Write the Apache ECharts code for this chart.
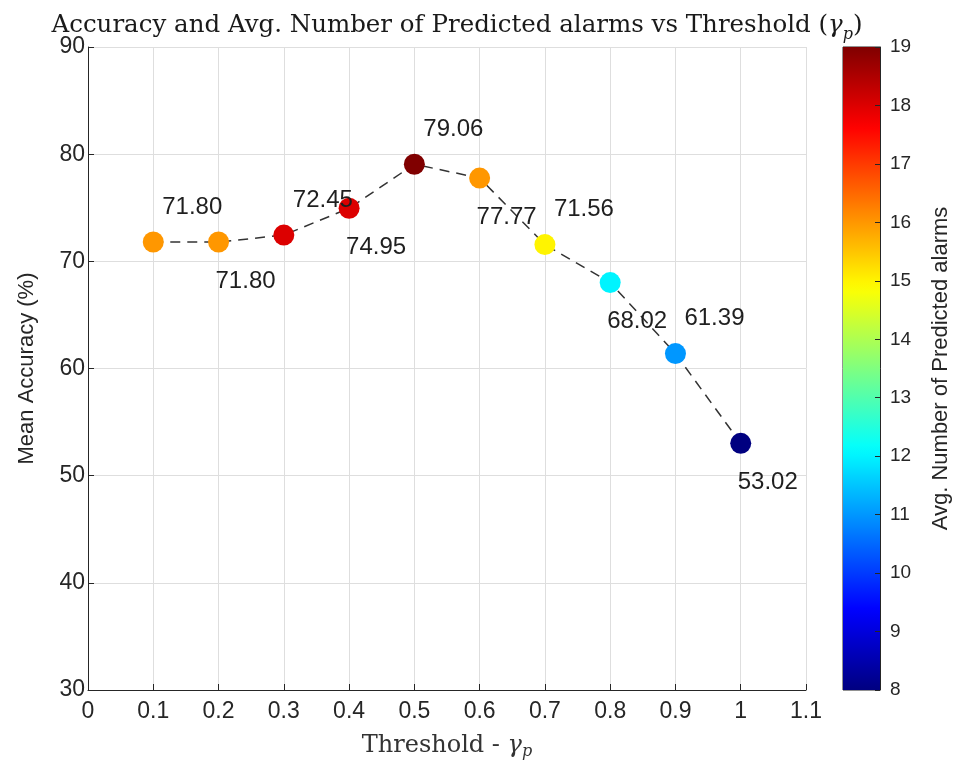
<!DOCTYPE html>
<html>
<head>
<meta charset="utf-8">
<script src="https://cdn.jsdelivr.net/npm/echarts@6/dist/echarts.min.js"></script>
<style>
  html, body { margin: 0; padding: 0; background: #ffffff; }
  #chart { width: 956px; height: 763px; }
</style>
</head>
<body>
<div id="chart"></div>
<script>
// Detection threshold values (gamma_p)
const thresholds = [0.1, 0.2, 0.3, 0.4, 0.5, 0.6, 0.7, 0.8, 0.9, 1.0];
// Mean accuracy (%) at each threshold
const meanAccuracy = [71.80, 71.80, 72.45, 74.95, 79.06, 77.77, 71.56, 68.02, 61.39, 53.02];
// Average number of predicted alarms at each threshold (drives marker colour)
const avgPredictedAlarms = [16, 16, 18, 18, 19, 16, 15, 12, 11, 8];
// Axis ranges
const xRange = [0, 1.1];
const xStep = 0.1;
const yRange = [30, 90];
const yStep = 10;
const alarmRange = [8, 19];
const alarmStep = 1;

const TEXT = '#262626';
const SANS = 'Liberation Sans, Arial, Helvetica, sans-serif';
const SERIF = 'DejaVu Serif, Liberation Serif, serif';

// MATLAB-style "jet" colormap
function jet(t) {
  const c = v => Math.round(255 * Math.max(0, Math.min(1, 1.5 - Math.abs(v))));
  return 'rgb(' + c(4 * t - 3) + ',' + c(4 * t - 2) + ',' + c(4 * t - 1) + ')';
}
const JET_N = 64;
const jetColors = [];
const jetStops = [];
for (let i = 0; i < JET_N; i++) {
  const t = i / (JET_N - 1);
  jetColors.push(jet(t));
  jetStops.push({ offset: t, color: jet(t) });
}

const chart = echarts.init(document.getElementById('chart'), null, { renderer: 'canvas' });

const pointData = thresholds.map((x, i) => ({
  value: [x, meanAccuracy[i], avgPredictedAlarms[i]],
  label: { offset: i % 2 === 0 ? [39, -35] : [27, 39] }
}));
const lineData = thresholds.map((x, i) => [x, meanAccuracy[i]]);

function serifRich(size, subSize, color, lh) {
  return {
    n: { fontFamily: SERIF, fontSize: size, fontWeight: 'normal', color: color, lineHeight: lh, verticalAlign: 'middle' },
    g: { fontFamily: SERIF, fontSize: size, fontWeight: 'normal', fontStyle: 'italic', color: color, lineHeight: lh, verticalAlign: 'middle' },
    s: { fontFamily: SERIF, fontSize: subSize, fontWeight: 'normal', fontStyle: 'italic', color: color, lineHeight: lh, verticalAlign: 'bottom' }
  };
}

const option = {
  backgroundColor: '#ffffff',
  animation: false,
  title: {
    text: '{n|Accuracy and Avg. Number of Predicted alarms vs Threshold (}{g|γ}{s|p}{n|)}',
    left: 452,
    textAlign: 'center',
    top: 4,
    textStyle: { fontWeight: 'normal', rich: serifRich(24.5, 16, '#1a1a1a', 34) }
  },
  grid: [
    { left: 88, right: 150, top: 47, bottom: 73, containLabel: false, outerBoundsMode: 'none' },
    { left: 843, width: 37, top: 47, bottom: 73, outerBoundsMode: 'none', show: true, borderColor: TEXT, borderWidth: 1, backgroundColor: 'transparent' }
  ],
  visualMap: {
    show: false,
    type: 'continuous',
    seriesIndex: 1,
    dimension: 2,
    min: alarmRange[0],
    max: alarmRange[1],
    inRange: { color: jetColors }
  },
  xAxis: [
    {
      type: 'value',
      gridIndex: 0,
      min: xRange[0],
      max: xRange[1],
      interval: xStep,
      name: '{n|Threshold - }{g|γ}{s|p}',
      nameLocation: 'middle',
      nameGap: 42,
      nameTextStyle: { rich: serifRich(24, 16, '#333', 28) },
      axisLine: { show: true, onZero: false, lineStyle: { color: TEXT, width: 1 } },
      axisTick: { show: true, inside: true, length: 6, lineStyle: { color: TEXT } },
      axisLabel: { fontFamily: SANS, fontSize: 23, color: TEXT, margin: 10 },
      splitLine: { show: true, lineStyle: { color: '#dedede', width: 1 } }
    },
    {
      type: 'value',
      gridIndex: 1,
      min: 0,
      max: 1,
      show: false
    }
  ],
  yAxis: [
    {
      type: 'value',
      gridIndex: 0,
      min: yRange[0],
      max: yRange[1],
      interval: yStep,
      name: 'Mean Accuracy (%)',
      nameLocation: 'middle',
      nameRotate: 90,
      nameGap: 50,
      nameTextStyle: { fontFamily: SANS, fontSize: 22, color: TEXT },
      axisLine: { show: true, onZero: false, lineStyle: { color: TEXT, width: 1 } },
      axisTick: { show: true, inside: true, length: 6, lineStyle: { color: TEXT } },
      axisLabel: { fontFamily: SANS, fontSize: 23, color: TEXT, margin: 3 },
      splitLine: { show: true, lineStyle: { color: '#dedede', width: 1 } }
    },
    {
      type: 'value',
      gridIndex: 1,
      position: 'right',
      z: 10,
      min: alarmRange[0],
      max: alarmRange[1],
      interval: alarmStep,
      name: 'Avg. Number of Predicted alarms',
      nameLocation: 'middle',
      nameRotate: 90,
      nameGap: 50,
      nameTextStyle: { fontFamily: SANS, fontSize: 22, color: TEXT },
      axisLine: { show: true, onZero: false, lineStyle: { color: TEXT, width: 1 } },
      axisTick: { show: true, inside: true, length: 5, lineStyle: { color: TEXT } },
      axisLabel: { fontFamily: SANS, fontSize: 19, color: TEXT, margin: 10 },
      splitLine: { show: false }
    }
  ],
  series: [
    {
      type: 'line',
      xAxisIndex: 0,
      yAxisIndex: 0,
      data: lineData,
      showSymbol: false,
      symbol: 'none',
      z: 2,
      lineStyle: { color: '#333333', width: 1.5, type: [10, 7] }
    },
    {
      type: 'scatter',
      xAxisIndex: 0,
      yAxisIndex: 0,
      data: pointData,
      symbol: 'circle',
      symbolSize: 21,
      z: 3,
      itemStyle: { opacity: 1 },
      label: {
        show: true,
        position: 'inside',
        fontFamily: SANS,
        fontSize: 24,
        color: '#1f1f1f',
        formatter: p => p.value[1].toFixed(2)
      }
    },
    {
      // colour bar: a single rectangle spanning the alarm range on the colour-bar axis
      type: 'custom',
      xAxisIndex: 1,
      yAxisIndex: 1,
      silent: true,
      z: 0,
      data: [[alarmRange[0], alarmRange[1]]],
      renderItem: function (params, api) {
        const bottomLeft = api.coord([0, api.value(0)]);
        const topRight = api.coord([1, api.value(1)]);
        return {
          type: 'rect',
          shape: {
            x: bottomLeft[0],
            y: topRight[1],
            width: topRight[0] - bottomLeft[0],
            height: bottomLeft[1] - topRight[1]
          },
          style: {
            fill: new echarts.graphic.LinearGradient(0, 1, 0, 0, jetStops)
          }
        };
      }
    }
  ]
};

chart.setOption(option);
</script>
</body>
</html>
